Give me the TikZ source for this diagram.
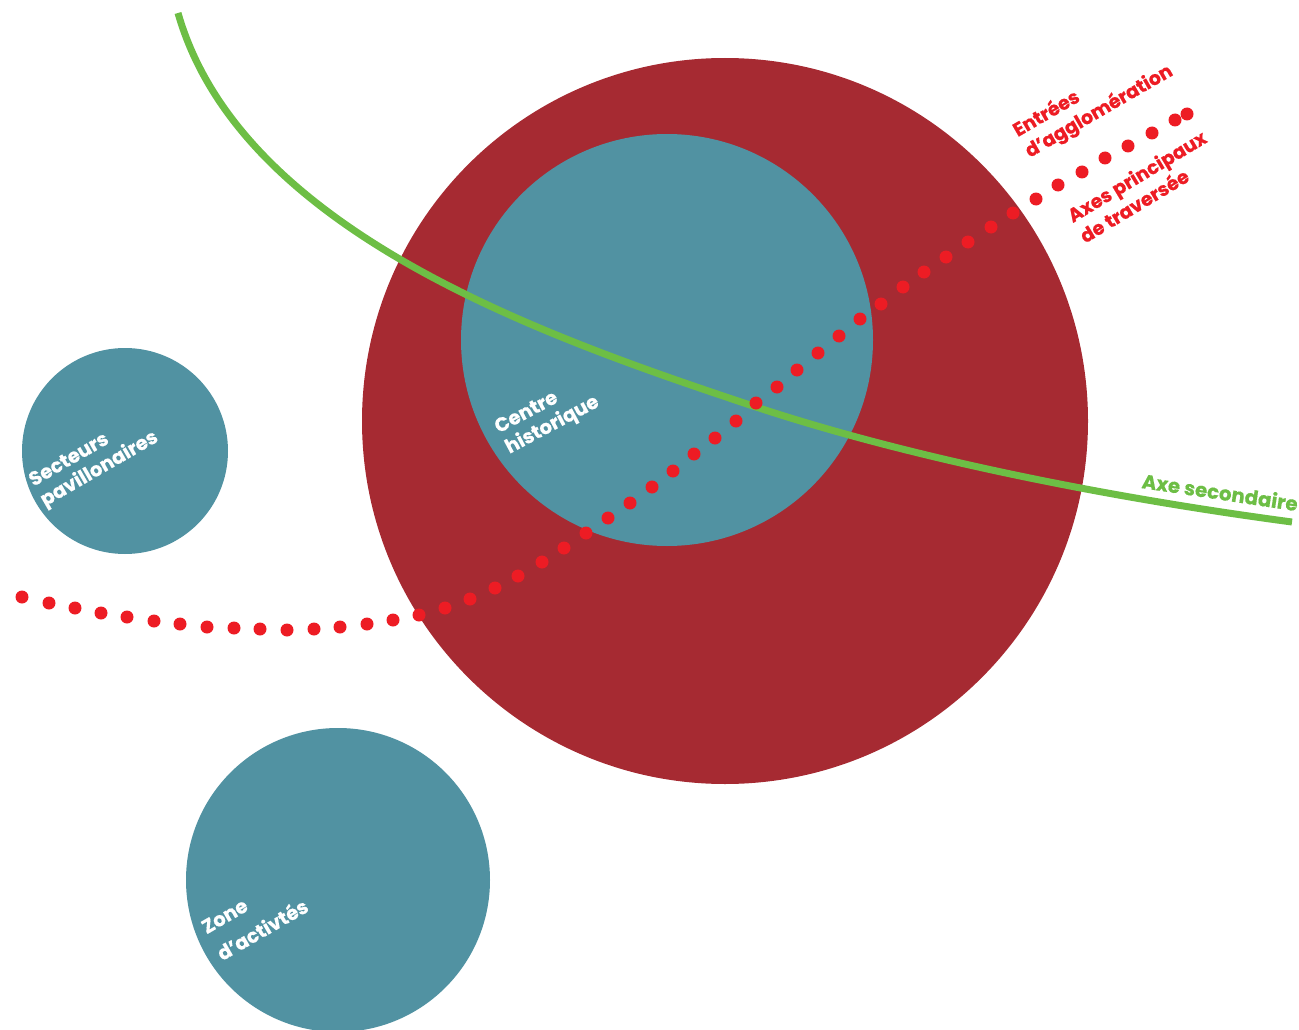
\documentclass[tikz,border=0pt]{standalone}
\usepackage{fontspec}
\setmainfont{Poppins}[BoldFeatures={FakeBold=0.5}]
\definecolor{bigred}{HTML}{A62A32}
\definecolor{teal}{HTML}{5192A2}
\definecolor{dotred}{HTML}{ED1C24}
\definecolor{axegreen}{HTML}{6DBE45}
\tikzset{
  zone/.style={fill=teal},
  lbl/.style={font=\fontsize{19.5}{23}\selectfont\bfseries, align=left, inner sep=0pt, anchor=west},
  whitelbl/.style={lbl, text=white},
  redlbl/.style={lbl, text=dotred, font=\fontsize{19}{24}\selectfont\bfseries},
  greenlbl/.style={lbl, text=axegreen, font=\fontsize{19.8}{24}\selectfont\bfseries},
}
\begin{document}
\begin{tikzpicture}[x=1pt,y=-1pt]
\path[use as bounding box] (0,0) rectangle (1299,1030);
\clip (0,0) rectangle (1299,1030);
% agglomeration
\fill[bigred] (725,421) circle (363);
\fill[zone] (667,340) circle (206);
\fill[zone] (125,451) circle (103);
\fill[zone] (338,880) circle (152);
% secondary axis
\coordinate (gs) at (178,13);
\coordinate (gm) at (750,405);
\coordinate (ge) at (1292,522);
\draw[axegreen, line width=7pt] (gs) .. controls (240,230) and (540,335) .. (gm)
  .. controls (930,465) and (1142,502) .. (ge);
% main axes dots
\foreach \p in {(22,597),(49,603),(75,608),(101,613),(127,617),(154,621),(180,624),(207,627),(234,628),(260,629),(287,630),(314,629),(340,627),(367,624),(393,620),(419,615),(445,608),(470,599),(495,588),(518,576),(542,562),(564,548),(586,533),(608,518),(630,503),(652,487),(673,471),(694,454),(715,438),(736,421),(756,403),(777,387),(797,370),(818,353),(839,336),(860,319),(881,304),(903,287),(924,272),(946,257),(968,242),(991,227),(1013,213),(1036,199),(1058,185),(1082,172),(1105,158),(1128,146),(1152,133),(1175,120),(1187,114)}
  \fill[dotred] \p circle (6.5);
% labels
\node[whitelbl, rotate=28] (centre) at (502,440) {Centre\\historique};
\node[whitelbl, rotate=30] (secteurs) at (37,493) {Secteurs\\pavillonaires};
\node[whitelbl, rotate=30, font=\fontsize{19.5}{31}\selectfont\bfseries] (zonea) at (211,942) {Zone\\d’activtés};
\node[redlbl, rotate=30] (entrees) at (1021,143) {Entrées\\d’agglomération};
\node[redlbl, rotate=31] (axes) at (1075,227) {Axes principaux\\de traversée};
\node[greenlbl, rotate=-8.5, anchor=base west] (axesec) at (1141,488) {Axe secondaire};
\end{tikzpicture}
\end{document}
